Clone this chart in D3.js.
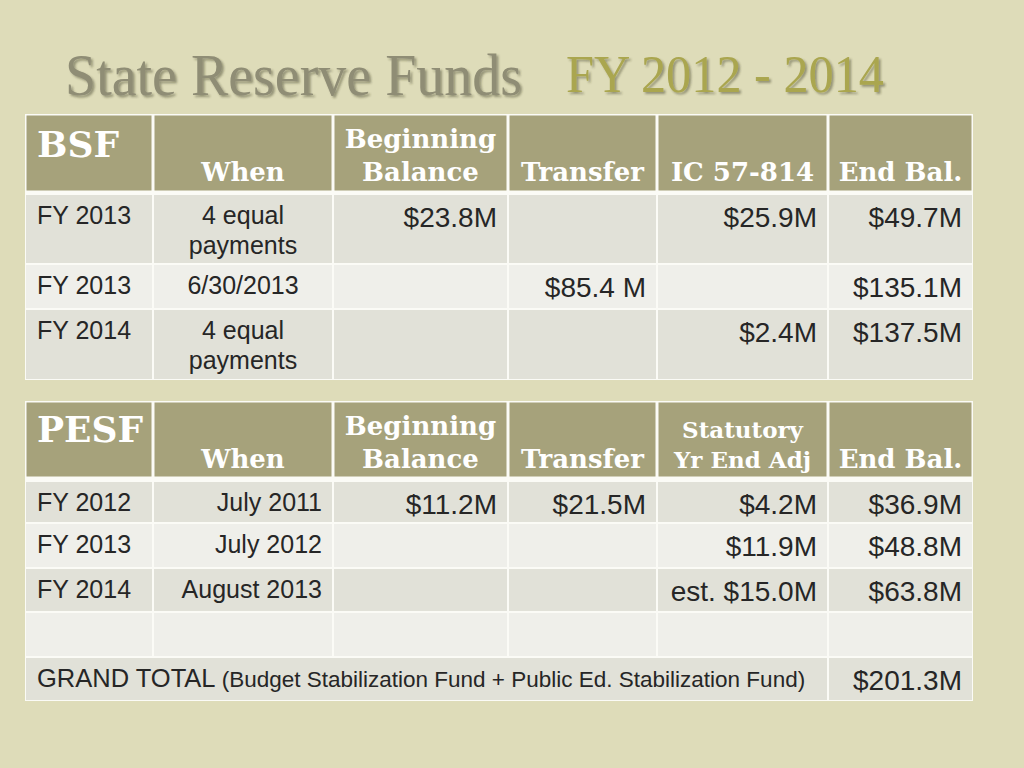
<!DOCTYPE html>
<html>
<head>
<meta charset="utf-8">
<script src="https://cdn.jsdelivr.net/npm/d3@7"></script>
<style>
  html, body { margin: 0; padding: 0; background: #dedcb9; }
  svg { display: block; }
</style>
</head>
<body>
<svg id="chart"></svg>
<script>
// ---- data ----
const titleMain = "State Reserve Funds";
const titleYears = "FY 2012 - 2014";

const bsfHeader = ["BSF", "When", "Beginning\nBalance", "Transfer", "IC 57-814", "End Bal."];
const bsfYears = ["FY 2013", "FY 2013", "FY 2014"];
const bsfWhen = ["4 equal\npayments", "6/30/2013", "4 equal\npayments"];
const bsfBeginning = ["$23.8M", "", ""];
const bsfTransfer = ["", "$85.4 M", ""];
const bsfIC = ["$25.9M", "", "$2.4M"];
const bsfEnd = ["$49.7M", "$135.1M", "$137.5M"];

const pesfHeader = ["PESF", "When", "Beginning\nBalance", "Transfer", "Statutory\nYr End Adj", "End Bal."];
const pesfYears = ["FY 2012", "FY 2013", "FY 2014", ""];
const pesfWhen = ["July 2011", "July 2012", "August 2013", ""];
const pesfBeginning = ["$11.2M", "", "", ""];
const pesfTransfer = ["$21.5M", "", "", ""];
const pesfAdj = ["$4.2M", "$11.9M", "est. $15.0M", ""];
const pesfEnd = ["$36.9M", "$48.8M", "$63.8M", ""];

const grandLabel = "GRAND TOTAL";
const grandNote = "(Budget Stabilization Fund + Public Ed. Stabilization Fund)";
const grandValue = "$201.3M";

// ---- layout ----
const width = 1024, height = 768;
const colEdges = [25, 153, 333, 508, 657, 828, 973];
const headerFill = "#a6a27b", darkFill = "#e1e1d8", lightFill = "#efefea";
const serif = "'DejaVu Serif', Georgia, serif";
const sans = "'Liberation Sans', Arial, sans-serif";

const svg = d3.select("#chart").attr("width", width).attr("height", height);
svg.append("rect").attr("width", width).attr("height", height).attr("fill", "#dedcb9");

const defs = svg.append("defs");
defs.append("filter").attr("id", "shadow")
    .attr("x", "-5%").attr("y", "-20%").attr("width", "110%").attr("height", "140%")
  .append("feDropShadow")
    .attr("dx", 2).attr("dy", 2).attr("stdDeviation", 1.2)
    .attr("flood-color", "#3a3826").attr("flood-opacity", 0.45);

// title
svg.append("text")
    .attr("x", 65).attr("y", 95)
    .attr("textLength", 457).attr("lengthAdjust", "spacingAndGlyphs")
    .attr("font-family", "'Liberation Serif', 'Times New Roman', serif")
    .attr("font-size", 60)
    .attr("fill", "#8f8d75")
    .attr("filter", "url(#shadow)")
    .text(titleMain);
svg.append("text")
    .attr("x", 566).attr("y", 92)
    .attr("textLength", 318).attr("lengthAdjust", "spacingAndGlyphs")
    .attr("font-family", "'Liberation Serif', 'Times New Roman', serif")
    .attr("font-size", 52)
    .attr("fill", "#aaa64f")
    .attr("filter", "url(#shadow)")
    .text(titleYears);

function drawTable(cfg) {
  const g = svg.append("g");
  const x0 = colEdges[0], x1 = colEdges[colEdges.length - 1];
  const rowTops = [cfg.dataTop];
  cfg.rowHeights.forEach(h => rowTops.push(rowTops[rowTops.length - 1] + h));
  const bottom = rowTops[rowTops.length - 1];

  // white frame behind everything acts as grid lines
  g.append("rect").attr("x", x0).attr("y", cfg.top)
      .attr("width", x1 - x0).attr("height", bottom - cfg.top).attr("fill", "#fbfbf6");

  // header cells
  g.selectAll(".hcell").data(cfg.header).enter().append("rect")
      .attr("x", (d, i) => colEdges[i] + 1.5)
      .attr("y", cfg.top + 1.5)
      .attr("width", (d, i) => colEdges[i + 1] - colEdges[i] - 3)
      .attr("height", cfg.headerBottom - cfg.top - 2)
      .attr("fill", headerFill);

  // data cells
  cfg.rows.forEach((row, r) => {
    const fill = r % 2 === 0 ? darkFill : lightFill;
    const y = rowTops[r];
    const h = cfg.rowHeights[r];
    row.cells.forEach(c => {
      g.append("rect")
          .attr("x", colEdges[c.from] + 1)
          .attr("y", y + 1)
          .attr("width", colEdges[c.to] - colEdges[c.from] - 2)
          .attr("height", h - 2)
          .attr("fill", fill);
      const lines = c.text ? c.text.split("\n") : [];
      lines.forEach((t, li) => {
        let tx, anchor;
        if (c.align === "right") { tx = colEdges[c.to] - 11; anchor = "end"; }
        else if (c.align === "center") { tx = (colEdges[c.from] + colEdges[c.to]) / 2; anchor = "middle"; }
        else { tx = colEdges[c.from] + 12; anchor = "start"; }
        const txt = g.append("text")
            .attr("x", tx)
            .attr("y", y + (c.big ? 33 : 30) + li * 30)
            .attr("text-anchor", anchor)
            .attr("font-family", sans)
            .attr("font-size", c.big ? 28 : 25)
            .attr("fill", "#262626");
        if (c.spans) {
          c.spans.forEach(s => txt.append("tspan").attr("font-size", s.size).text(s.text));
        } else {
          txt.text(t);
        }
      });
    });
  });

  // header labels
  cfg.header.forEach((label, i) => {
    const lines = label.split("\n");
    if (i === 0) {
      g.append("text")
          .attr("x", colEdges[0] + 12).attr("y", cfg.top + cfg.titleBase)
          .attr("font-family", serif).attr("font-weight", "bold")
          .attr("font-size", 36).attr("fill", "#ffffff")
          .text(label);
      return;
    }
    const cx = (colEdges[i] + colEdges[i + 1]) / 2;
    const small = lines.length > 1 && cfg.smallHeaders.includes(i);
    lines.forEach((t, li) => {
      const base = lines.length === 1
        ? cfg.top + 67
        : (li === 0 ? cfg.top + (small ? 37 : 34) : cfg.top + 67);
      g.append("text")
          .attr("x", cx).attr("y", base)
          .attr("text-anchor", "middle")
          .attr("font-family", serif).attr("font-weight", "bold")
          .attr("font-size", small ? 23 : 26).attr("fill", "#ffffff")
          .text(t);
    });
  });
}

// BSF table
drawTable({
  top: 114, headerBottom: 191, dataTop: 194, titleBase: 43,
  rowHeights: [70, 45, 71],
  header: bsfHeader, smallHeaders: [],
  rows: bsfYears.map((y, i) => ({
    cells: [
      { from: 0, to: 1, text: y, align: "left" },
      { from: 1, to: 2, text: bsfWhen[i], align: "center" },
      { from: 2, to: 3, text: bsfBeginning[i], align: "right", big: true },
      { from: 3, to: 4, text: bsfTransfer[i], align: "right", big: true },
      { from: 4, to: 5, text: bsfIC[i], align: "right", big: true },
      { from: 5, to: 6, text: bsfEnd[i], align: "right", big: true }
    ]
  }))
});

// PESF table
const pesfRows = pesfYears.map((y, i) => ({
  cells: [
    { from: 0, to: 1, text: y, align: "left" },
    { from: 1, to: 2, text: pesfWhen[i], align: "right" },
    { from: 2, to: 3, text: pesfBeginning[i], align: "right", big: true },
    { from: 3, to: 4, text: pesfTransfer[i], align: "right", big: true },
    { from: 4, to: 5, text: pesfAdj[i], align: "right", big: true },
    { from: 5, to: 6, text: pesfEnd[i], align: "right", big: true }
  ]
}));
pesfRows.push({
  cells: [
    { from: 0, to: 5, text: grandLabel, align: "left",
      spans: [{ text: grandLabel + " ", size: 25.5 }, { text: grandNote, size: 22.5 }] },
    { from: 5, to: 6, text: grandValue, align: "right", big: true }
  ]
});

drawTable({
  top: 401, headerBottom: 477, dataTop: 481, titleBase: 41,
  rowHeights: [42, 45, 44, 45, 44],
  header: pesfHeader, smallHeaders: [4],
  rows: pesfRows
});
</script>
</body>
</html>
